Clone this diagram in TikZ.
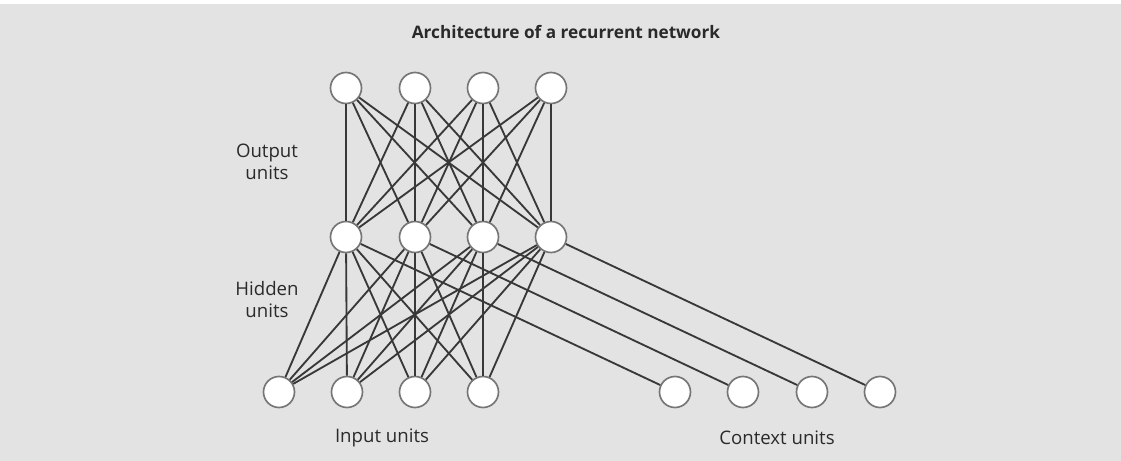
\documentclass[tikz,border=0pt]{standalone}
\usepackage{fontspec}
\setmainfont{Open Sans}
\definecolor{panelgray}{HTML}{E3E3E3}
\definecolor{linkgray}{HTML}{383838}
\definecolor{rimgray}{HTML}{767676}
\definecolor{textgray}{HTML}{2A2A2A}
\tikzset{
  unit/.style={circle,draw=rimgray,fill=white,line width=0.95pt,minimum size=0.62cm,inner sep=0pt},
  link/.style={draw=linkgray,line width=1.05pt},
  label/.style={text=textgray,font=\fontsize{10.6}{12.5}\selectfont,align=center}
}
\begin{document}
\begin{tikzpicture}[scale=2]

\useasboundingbox (0, 0) rectangle (11.21, -4.61);
\fill[fill=panelgray] (0, -0.04) rectangle (11.21, -4.61);

% title and layer labels
\node[label,font=\bfseries\fontsize{9.8}{11}\selectfont] (title) at (5.66, -0.32) {Architecture of a recurrent network};
\node[label] (outlbl) at (2.67, -1.62) {Output\\units};
\node[label] (hidlbl) at (2.67, -3.00) {Hidden\\units};
\node[label] (inlbl) at (3.82, -4.38) {Input units};
\node[label] (ctxlbl) at (7.77, -4.38) {Context units};

% output units
\node[unit] (o1) at (3.46, -0.88) {};
\node[unit] (o2) at (4.15, -0.88) {};
\node[unit] (o3) at (4.83, -0.88) {};
\node[unit] (o4) at (5.51, -0.88) {};

% hidden units
\node[unit] (h1) at (3.46, -2.37) {};
\node[unit] (h2) at (4.15, -2.37) {};
\node[unit] (h3) at (4.83, -2.37) {};
\node[unit] (h4) at (5.51, -2.37) {};

% input units
\node[unit] (i1) at (2.79, -3.92) {};
\node[unit] (i2) at (3.47, -3.92) {};
\node[unit] (i3) at (4.15, -3.92) {};
\node[unit] (i4) at (4.83, -3.92) {};

% context units
\node[unit] (c1) at (6.75, -3.92) {};
\node[unit] (c2) at (7.43, -3.92) {};
\node[unit] (c3) at (8.12, -3.92) {};
\node[unit] (c4) at (8.80, -3.92) {};

% hidden -> output
\draw[link] (h1) -- (o1);
\draw[link] (h1) -- (o2);
\draw[link] (h1) -- (o3);
\draw[link] (h1) -- (o4);
\draw[link] (h2) -- (o1);
\draw[link] (h2) -- (o2);
\draw[link] (h2) -- (o3);
\draw[link] (h2) -- (o4);
\draw[link] (h3) -- (o1);
\draw[link] (h3) -- (o2);
\draw[link] (h3) -- (o3);
\draw[link] (h3) -- (o4);
\draw[link] (h4) -- (o1);
\draw[link] (h4) -- (o2);
\draw[link] (h4) -- (o3);
\draw[link] (h4) -- (o4);

% input -> hidden
\draw[link] (i1) -- (h1);
\draw[link] (i1) -- (h2);
\draw[link] (i1) -- (h3);
\draw[link] (i1) -- (h4);
\draw[link] (i2) -- (h1);
\draw[link] (i2) -- (h2);
\draw[link] (i2) -- (h3);
\draw[link] (i2) -- (h4);
\draw[link] (i3) -- (h1);
\draw[link] (i3) -- (h2);
\draw[link] (i3) -- (h3);
\draw[link] (i3) -- (h4);
\draw[link] (i4) -- (h1);
\draw[link] (i4) -- (h2);
\draw[link] (i4) -- (h3);
\draw[link] (i4) -- (h4);

% hidden -> context
\draw[link] (h1) -- (c1);
\draw[link] (h2) -- (c2);
\draw[link] (h3) -- (c3);
\draw[link] (h4) -- (c4);

\end{tikzpicture}
\end{document}
